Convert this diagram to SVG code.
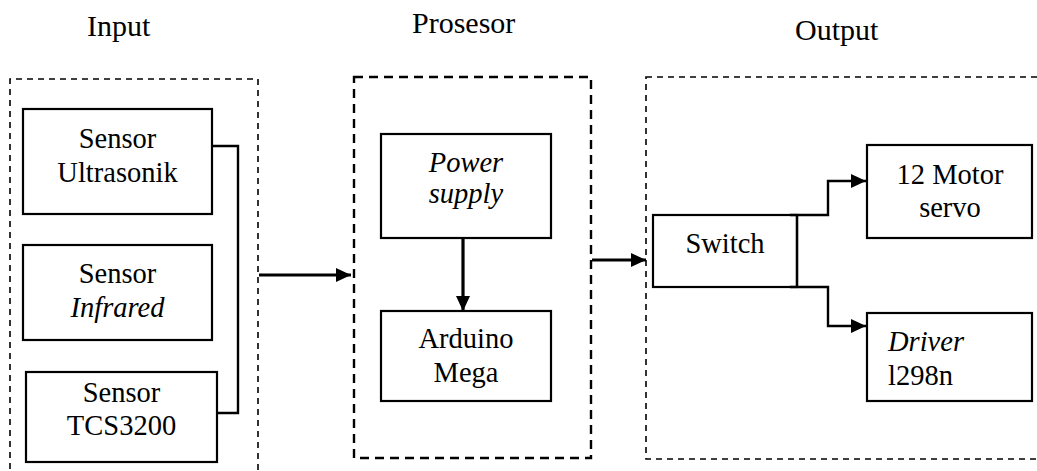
<svg xmlns="http://www.w3.org/2000/svg" width="1037" height="471" viewBox="0 0 1037 471">
<style>
text{font-family:"Liberation Serif","Times New Roman",serif;font-size:28.5px;fill:#000}
.t{font-size:30px}
.i{font-style:italic}
.box{fill:#fff;stroke:#000;stroke-width:2.2}
.dash{fill:none;stroke:#000;stroke-width:1.6;stroke-dasharray:6 5}
.dash2{fill:none;stroke:#000;stroke-width:2.4;stroke-dasharray:9 6}
.ln{fill:none;stroke:#000;stroke-width:2.4}
.ar{fill:none;stroke:#000;stroke-width:3.2}
</style>
<defs>
<marker id="ah" markerUnits="userSpaceOnUse" markerWidth="16" markerHeight="14" refX="15" refY="7" orient="auto">
<path d="M0,0 L15,7 L0,14 Z" fill="#000"/>
</marker>
</defs>
<text class="t" x="87" y="36">Input</text>
<text class="t" x="412" y="33">Prosesor</text>
<text class="t" x="795" y="40">Output</text>
<g id="group-input">
<path class="dash" d="M10,480 V79 H258 V480"/>
</g>
<g id="group-prosesor">
<rect class="dash2" x="354" y="77" width="237" height="381"/>
</g>
<g id="group-output">
<rect class="dash" x="646" y="77" width="400" height="382"/>
</g>
<g id="sensor-ultrasonik">
<rect class="box" x="23" y="109" width="189" height="105"/>
<text x="117.5" y="148" text-anchor="middle">Sensor</text>
<text x="117.5" y="182" text-anchor="middle">Ultrasonik</text>
</g>
<g id="sensor-infrared">
<rect class="box" x="23" y="245" width="189" height="95"/>
<text x="117.5" y="283" text-anchor="middle">Sensor</text>
<text class="i" x="117.5" y="317" text-anchor="middle">Infrared</text>
</g>
<g id="sensor-tcs3200">
<rect class="box" x="26" y="372" width="191" height="90"/>
<text x="121.5" y="402" text-anchor="middle">Sensor</text>
<text x="121.5" y="435" text-anchor="middle">TCS3200</text>
</g>
<g id="power-supply">
<rect class="box" x="381" y="134" width="170" height="104"/>
<text class="i" x="466" y="172" text-anchor="middle">Power</text>
<text class="i" x="466" y="203" text-anchor="middle">supply</text>
</g>
<g id="arduino-mega">
<rect class="box" x="381" y="311" width="170" height="90"/>
<text x="466" y="348" text-anchor="middle">Arduino</text>
<text x="466" y="382" text-anchor="middle">Mega</text>
</g>
<g id="switch">
<rect class="box" x="653" y="215" width="144" height="72"/>
<text x="725" y="253" text-anchor="middle">Switch</text>
</g>
<g id="motor-servo">
<rect class="box" x="867" y="145" width="165" height="93"/>
<text x="950" y="184" text-anchor="middle">12 Motor</text>
<text x="950" y="217" text-anchor="middle">servo</text>
</g>
<g id="driver">
<rect class="box" x="867" y="313" width="165" height="88"/>
<text x="888" y="351"><tspan class="i">Driver</tspan></text>
<text x="888" y="385">l298n</text>
</g>
<g id="connectors">
<path class="ln" d="M212,146 H238 V413 H217"/>
<path class="ar" d="M259,275 H351" marker-end="url(#ah)"/>
<path class="ar" d="M463,238 V311" marker-end="url(#ah)"/>
<path class="ar" d="M592,260 H646" marker-end="url(#ah)"/>
<path class="ln" d="M797,215 V287"/>
<path class="ln" d="M790,215 H828 V181 H866" marker-end="url(#ah)"/>
<path class="ln" d="M790,287 H828 V326 H866" marker-end="url(#ah)"/>
</g>
</svg>
